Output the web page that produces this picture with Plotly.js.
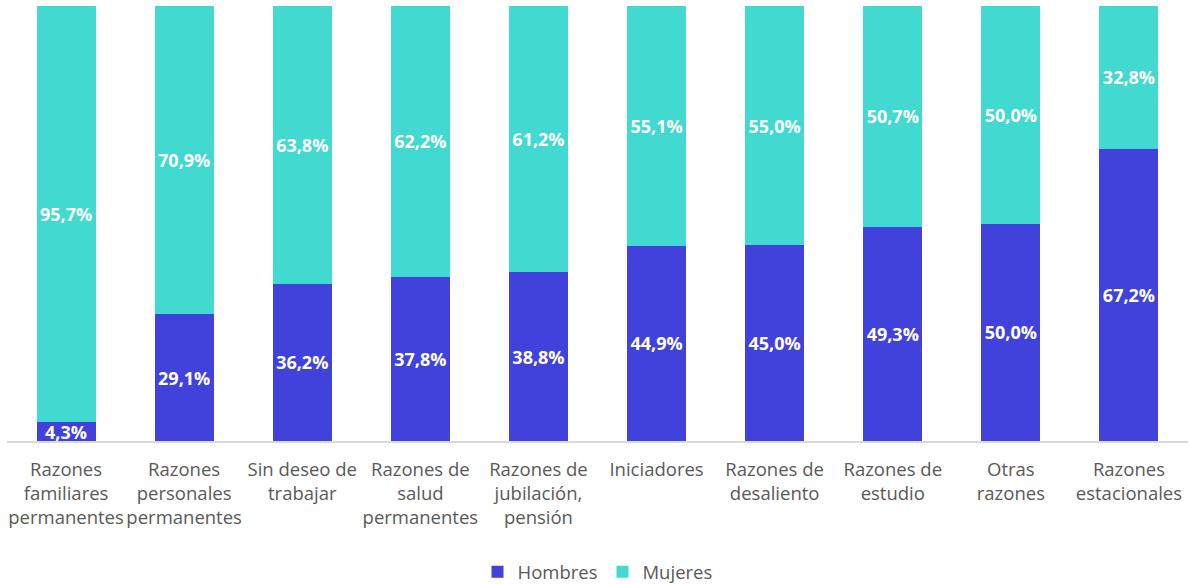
<!DOCTYPE html>
<html><head><meta charset="utf-8">
<script src="https://cdn.plot.ly/plotly-3.0.1.min.js"></script>
<style>html,body{margin:0;padding:0;background:#fff}#chart{width:1190px;height:584px}</style>
</head><body><div id="chart"></div>
<script>
const categories = [
  "Razones<br>familiares<br>permanentes",
  "Razones<br>personales<br>permanentes",
  "Sin deseo de<br>trabajar",
  "Razones de<br>salud<br>permanentes",
  "Razones de<br>jubilación,<br>pensión",
  "Iniciadores",
  "Razones de<br>desaliento",
  "Razones de<br>estudio",
  "Otras<br>razones",
  "Razones<br>estacionales"
];
const hombres = [4.3, 29.1, 36.2, 37.8, 38.8, 44.9, 45.0, 49.3, 50.0, 67.2];
const mujeres = [95.7, 70.9, 63.8, 62.2, 61.2, 55.1, 55.0, 50.7, 50.0, 32.8];

const FONT = "Open Sans, Liberation Sans, sans-serif";
const common = {
  type: 'bar',
  x: categories,
  texttemplate: '%{y:.1f}%',
  textposition: 'inside',
  insidetextanchor: 'middle',
  textangle: 0,
  constraintext: 'none',
  textfont: {family: FONT, size: 18, color: '#ffffff', weight: 'bold'},
  hoverinfo: 'skip'
};
const data = [
  Object.assign({}, common, {name: 'Hombres', y: hombres, marker: {color: '#4141DB'}}),
  Object.assign({}, common, {name: 'Mujeres', y: mujeres, marker: {color: '#42D9D0'}})
];
const layout = {
  width: 1190, height: 584,
  margin: {l: 7, r: 2, t: 6, b: 143},
  barmode: 'stack',
  bargap: 0.5,
  separators: ',.',
  paper_bgcolor: '#fff', plot_bgcolor: '#fff',
  font: {family: FONT, color: '#595959', size: 18.5},
  xaxis: {
    automargin: false,
    showline: true, linecolor: '#D9D9D9', linewidth: 2,
    ticks: '', showgrid: false, zeroline: false,
    tickfont: {family: FONT, size: 18.5, color: '#595959'},
    tickangle: 0,
    ticklabelstandoff: 11
  },
  yaxis: {range: [0, 100], visible: false, showgrid: false, zeroline: false, automargin: false},
  showlegend: true,
  legend: {orientation: 'h', x: 0.5, xanchor: 'center', yref: 'container', y: 0.02, yanchor: 'middle',
           font: {family: FONT, size: 18.5, color: '#595959'}, itemwidth: 30, traceorder: 'normal'}
};
Plotly.newPlot('chart', data, layout, {displayModeBar: false, staticPlot: true});
</script></body></html>
